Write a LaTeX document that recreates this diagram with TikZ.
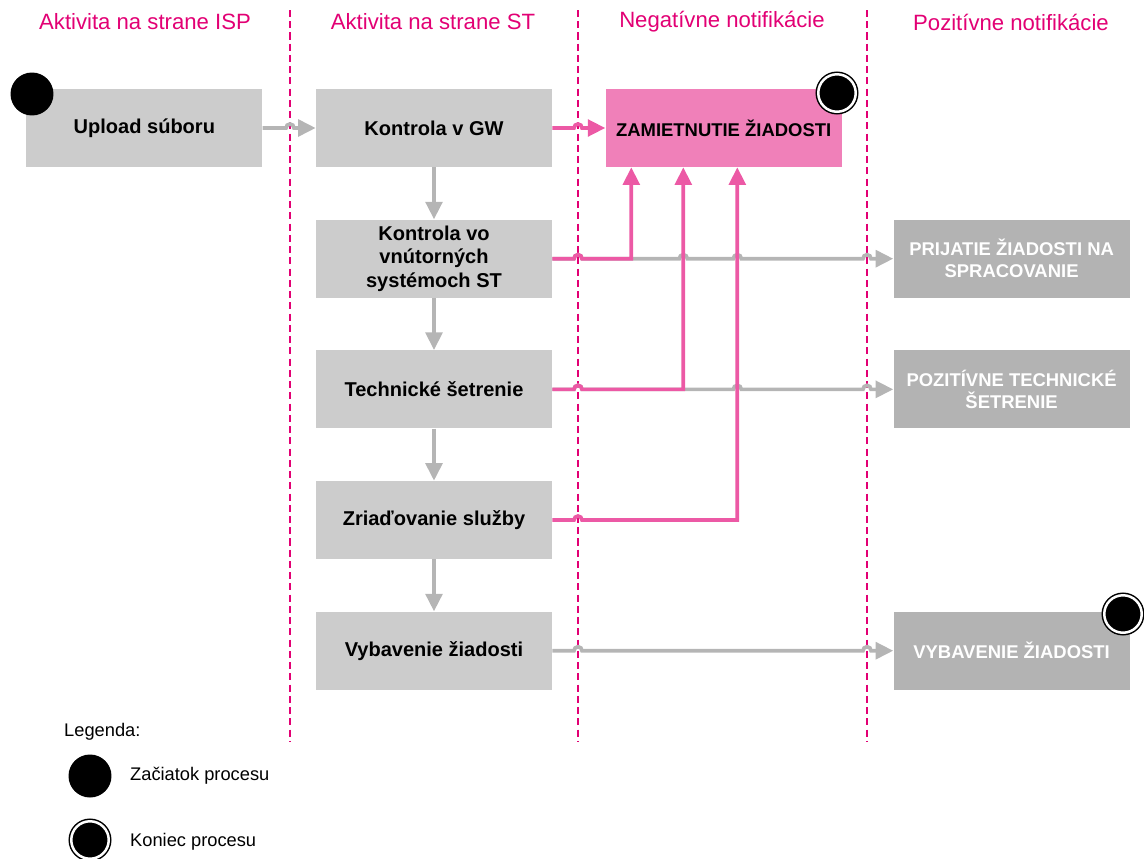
\documentclass[tikz,border=0pt]{standalone}
\usepackage{fontspec}
\setmainfont{Liberation Sans}
\usetikzlibrary{arrows.meta,positioning,calc}
\definecolor{TMagenta}{HTML}{E20074}
\definecolor{BoxGray}{HTML}{CCCCCC}
\definecolor{DarkGray}{HTML}{B3B3B3}
\definecolor{LineGray}{HTML}{B5B5B5}
\newcommand{\hp}{arc[start angle=180,end angle=360,radius=4]}

\begin{document}
\begin{tikzpicture}[x=0.02cm,y=-0.02cm,node distance=1.04cm and 1.06cm,>={Triangle[length=10pt,width=9.5pt]},
 lane/.style={TMagenta,line width=1.1pt,dash pattern=on 4pt off 2.4pt},
 head/.style={text=TMagenta,font=\fontsize{12.6}{15}\selectfont},
 act/.style={fill=BoxGray,minimum width=4.72cm,minimum height=1.56cm,inner sep=2pt,align=center,font=\fontsize{11.4}{13.4}\selectfont\bfseries},
 negbox/.style={act,fill=TMagenta!50,font=\fontsize{10.5}{12.5}\selectfont\bfseries},
 posbox/.style={act,fill=DarkGray,text=white,font=\fontsize{10.5}{12.5}\selectfont\bfseries},
 startdot/.style={circle,fill=black,minimum size=0.86cm,inner sep=0pt},
 enddot/.style={circle,fill=black,draw=black,double=white,double distance=0.05cm,line width=0.03cm,minimum size=0.75cm,inner sep=0pt},
 gline/.style={->,LineGray,line width=2.1pt},
 pline/.style={->,TMagenta!65,line width=2.1pt},
 leg/.style={anchor=west,font=\fontsize{10.4}{12.5}\selectfont}]
\useasboundingbox (0,0) rectangle (1144,859);
\node[head] (h1) at (145,22) {Aktivita na strane ISP};
\node[head] (h2) at (433,22) {Aktivita na strane ST};
\node[head] (h3) at (722,22) {Negatívne notifikácie};
\node[head] (h4) at (1011,22) {Pozitívne notifikácie};
\foreach \x [count=\i] in {290,578,867} {\coordinate (l\i) at (\x,10); \draw[lane] (l\i) -- (\x,742);}
\node[act] (gw) at (434,128) {Kontrola v GW};
\node[act,left=of gw] (upload) {Upload súboru};
\node[negbox,right=of gw] (zam) {ZAMIETNUTIE ŽIADOSTI};
\node[act,below=of gw] (vnut) {Kontrola vo\\vnútorných\\systémoch ST};
\node[act,below=of vnut] (tech) {Technické šetrenie};
\node[act,below=of tech] (zriad) {Zriaďovanie služby};
\node[act,below=of zriad] (vybav) {Vybavenie žiadosti};
\node[posbox,right=6.82cm of vnut] (prij) {PRIJATIE ŽIADOSTI NA\\SPRACOVANIE};
\node[posbox,right=6.82cm of tech] (pozit) {POZITÍVNE TECHNICKÉ\\ŠETRENIE};
\node[posbox,right=6.82cm of vybav] (vybok) {VYBAVENIE ŽIADOSTI};
\coordinate (t1) at ($(zam.south west)+(26,0)$);
\coordinate (t2) at ($(zam.south west)+(78,0)$);
\coordinate (t3) at ($(zam.south west)+(132,0)$);
\draw[gline] (upload.east) -- ($(l1|-upload.east)+(-4,0)$) \hp -- (gw.west);
\draw[pline] (gw.east) -- ($(l2|-gw.east)+(-4,0)$) \hp -- (zam.west);
\foreach \a/\b in {gw/vnut,vnut/tech,tech/zriad,zriad/vybav} \draw[gline] (\a) -- (\b);
\draw[gline] (vnut.east) -- ($(l2|-vnut.east)+(-4,0)$) \hp -- ($(t2|-vnut.east)+(-4,0)$) \hp -- ($(t3|-vnut.east)+(-4,0)$) \hp -- ($(l3|-vnut.east)+(-4,0)$) \hp -- (prij.west);
\draw[gline] (tech.east) -- ($(l2|-tech.east)+(-4,0)$) \hp -- ($(t3|-tech.east)+(-4,0)$) \hp -- ($(l3|-tech.east)+(-4,0)$) \hp -- (pozit.west);
\draw[gline] (vybav.east) -- ($(l2|-vybav.east)+(-4,0)$) \hp -- ($(l3|-vybav.east)+(-4,0)$) \hp -- (vybok.west);
\draw[pline] (vnut.east) -- ($(l2|-vnut.east)+(-4,0)$) \hp -- (t1|-vnut.east) -- (t1);
\draw[pline] (tech.east) -- ($(l2|-tech.east)+(-4,0)$) \hp -- (t2|-tech.east) -- (t2);
\draw[pline] (zriad.east) -- ($(l2|-zriad.east)+(-4,0)$) \hp -- (t3|-zriad.east) -- (t3);
\node[startdot] (s0) at (32,94) {};
\node[enddot] (e1) at (837,93) {};
\node[enddot] (e2) at (1123,614) {};
\node[leg] (legt) at (58,732) {Legenda:};
\node[startdot] (ls) at (90,776) {};
\node[leg] (lst) at (124,776) {Začiatok procesu};
\node[enddot] (le) at (90,840) {};
\node[leg] (lkt) at (124,842) {Koniec procesu};
\end{tikzpicture}
\end{document}
